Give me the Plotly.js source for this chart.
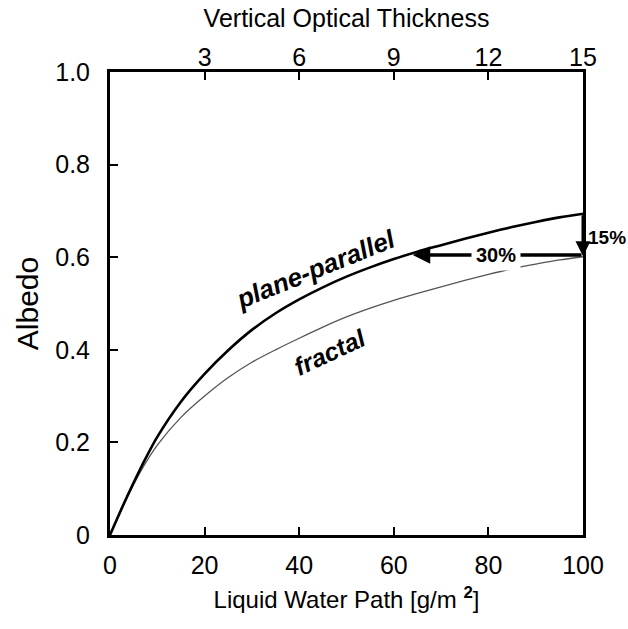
<!DOCTYPE html>
<html>
<head>
<meta charset="utf-8">
<script src="https://cdn.plot.ly/plotly-3.0.1.min.js"></script>
<style>html,body{margin:0;padding:0;background:#fff;}</style>
</head>
<body>
<div id="chart" style="width:628px;height:629px;"></div>
<script>
// Data
const lwp = [0, 2.5, 5, 7.5, 10, 15, 20, 25, 30, 35, 40, 45, 50, 55, 60, 65, 70, 75, 80, 85, 90, 95, 100];
const albedoPlaneParallel = [0, 0.058, 0.113, 0.165, 0.212, 0.288, 0.348, 0.399, 0.443, 0.479, 0.509, 0.535, 0.558, 0.578, 0.596, 0.612, 0.626, 0.640, 0.653, 0.665, 0.676, 0.686, 0.694];
const albedoFractal = [0, 0.057, 0.109, 0.155, 0.194, 0.254, 0.30, 0.34, 0.373, 0.40, 0.425, 0.449, 0.471, 0.49, 0.507, 0.522, 0.536, 0.550, 0.563, 0.575, 0.585, 0.594, 0.601];
const xTicks = [0, 20, 40, 60, 80, 100];
const yTicks = [0, 0.2, 0.4, 0.6, 0.8, 1.0];
const yTickText = ['0', '0.2', '0.4', '0.6', '0.8', '1.0'];
const tauTicks = [3, 6, 9, 12, 15];

const font = 'Liberation Sans, Arial, Helvetica, sans-serif';

const traces = [
  {x: lwp, y: albedoFractal, mode: 'lines', line: {color: '#555', width: 1.3, shape: 'spline', smoothing: 0.8}, hoverinfo: 'skip', showlegend: false},
  {x: lwp, y: albedoPlaneParallel, mode: 'lines', line: {color: '#000', width: 2.6, shape: 'spline', smoothing: 0.8}, hoverinfo: 'skip', showlegend: false},
  {x: [0, 15], y: [null, null], xaxis: 'x2', yaxis: 'y', mode: 'lines', hoverinfo: 'skip', showlegend: false}
];

const layout = {
  width: 628, height: 629,
  margin: {l: 110, r: 45, t: 72, b: 94},
  paper_bgcolor: '#fff', plot_bgcolor: '#fff',
  font: {family: font, color: '#000', size: 18},
  xaxis: {
    range: [0, 100], tickvals: xTicks, ticks: 'inside', ticklen: 8, tickwidth: 2, tickcolor: '#000',
    showline: true, linewidth: 3, linecolor: '#000', mirror: true, showgrid: false, zeroline: false,
    ticklabelstandoff: 6,
    tickfont: {size: 25},
    title: {text: 'Liquid Water Path [g/m <b><sup>2</sup></b>]', font: {size: 24}, standoff: 14}
  },
  xaxis2: {
    range: [0, 15], overlaying: 'x', side: 'top', tickvals: tauTicks, ticks: 'inside', ticklen: 8, tickwidth: 2,
    tickcolor: '#000', showline: false, showgrid: false, zeroline: false,
    ticklabelstandoff: 0,
    tickfont: {size: 25},
    title: {text: 'Vertical Optical Thickness', font: {size: 25}, standoff: 8}
  },
  yaxis: {
    range: [0, 1.0], tickvals: yTicks, ticktext: yTickText, ticks: 'inside', ticklen: 8, tickwidth: 2, tickcolor: '#000',
    showline: true, linewidth: 3, linecolor: '#000', mirror: true, showgrid: false, zeroline: false,
    ticklabelstandoff: 12,
    tickfont: {size: 25},
    title: {text: 'Albedo', font: {size: 30}, standoff: 8}
  },
  annotations: [
    // 30% horizontal arrow
    {x: 64, y: 0.605, ax: 100, ay: 0.605, xref: 'x', yref: 'y', axref: 'x', ayref: 'y',
     text: '', showarrow: true, arrowhead: 2, arrowsize: 1, arrowwidth: 3.5, arrowcolor: '#000', standoff: 0},
    {x: 81.5, y: 0.605, xref: 'x', yref: 'y', text: '<b>30%</b>', showarrow: false,
     bgcolor: '#fff', borderpad: 4, font: {size: 20, family: font}},
    // 15% vertical arrow
    {x: 100, y: 0.602, ax: 100, ay: 0.694, xref: 'x', yref: 'y', axref: 'x', ayref: 'y',
     text: '', showarrow: true, arrowhead: 2, arrowsize: 1, arrowwidth: 3, arrowcolor: '#000', standoff: 0},
    {x: 100, y: 0.642, xref: 'x', yref: 'y', text: '<b>15%</b>', showarrow: false, xanchor: 'left', xshift: 3,
     font: {size: 19, family: font}},
    // curve labels
    {x: 43.5, y: 0.574, xref: 'x', yref: 'y', text: '<b><i>plane-parallel</i></b>', showarrow: false,
     textangle: -22, font: {size: 26, family: font}},
    {x: 46.5, y: 0.395, xref: 'x', yref: 'y', text: '<b><i>fractal</i></b>', showarrow: false,
     textangle: -25, font: {size: 25, family: font}}
  ]
};

Plotly.newPlot('chart', traces, layout, {staticPlot: true, displayModeBar: false});
</script>
</body>
</html>
